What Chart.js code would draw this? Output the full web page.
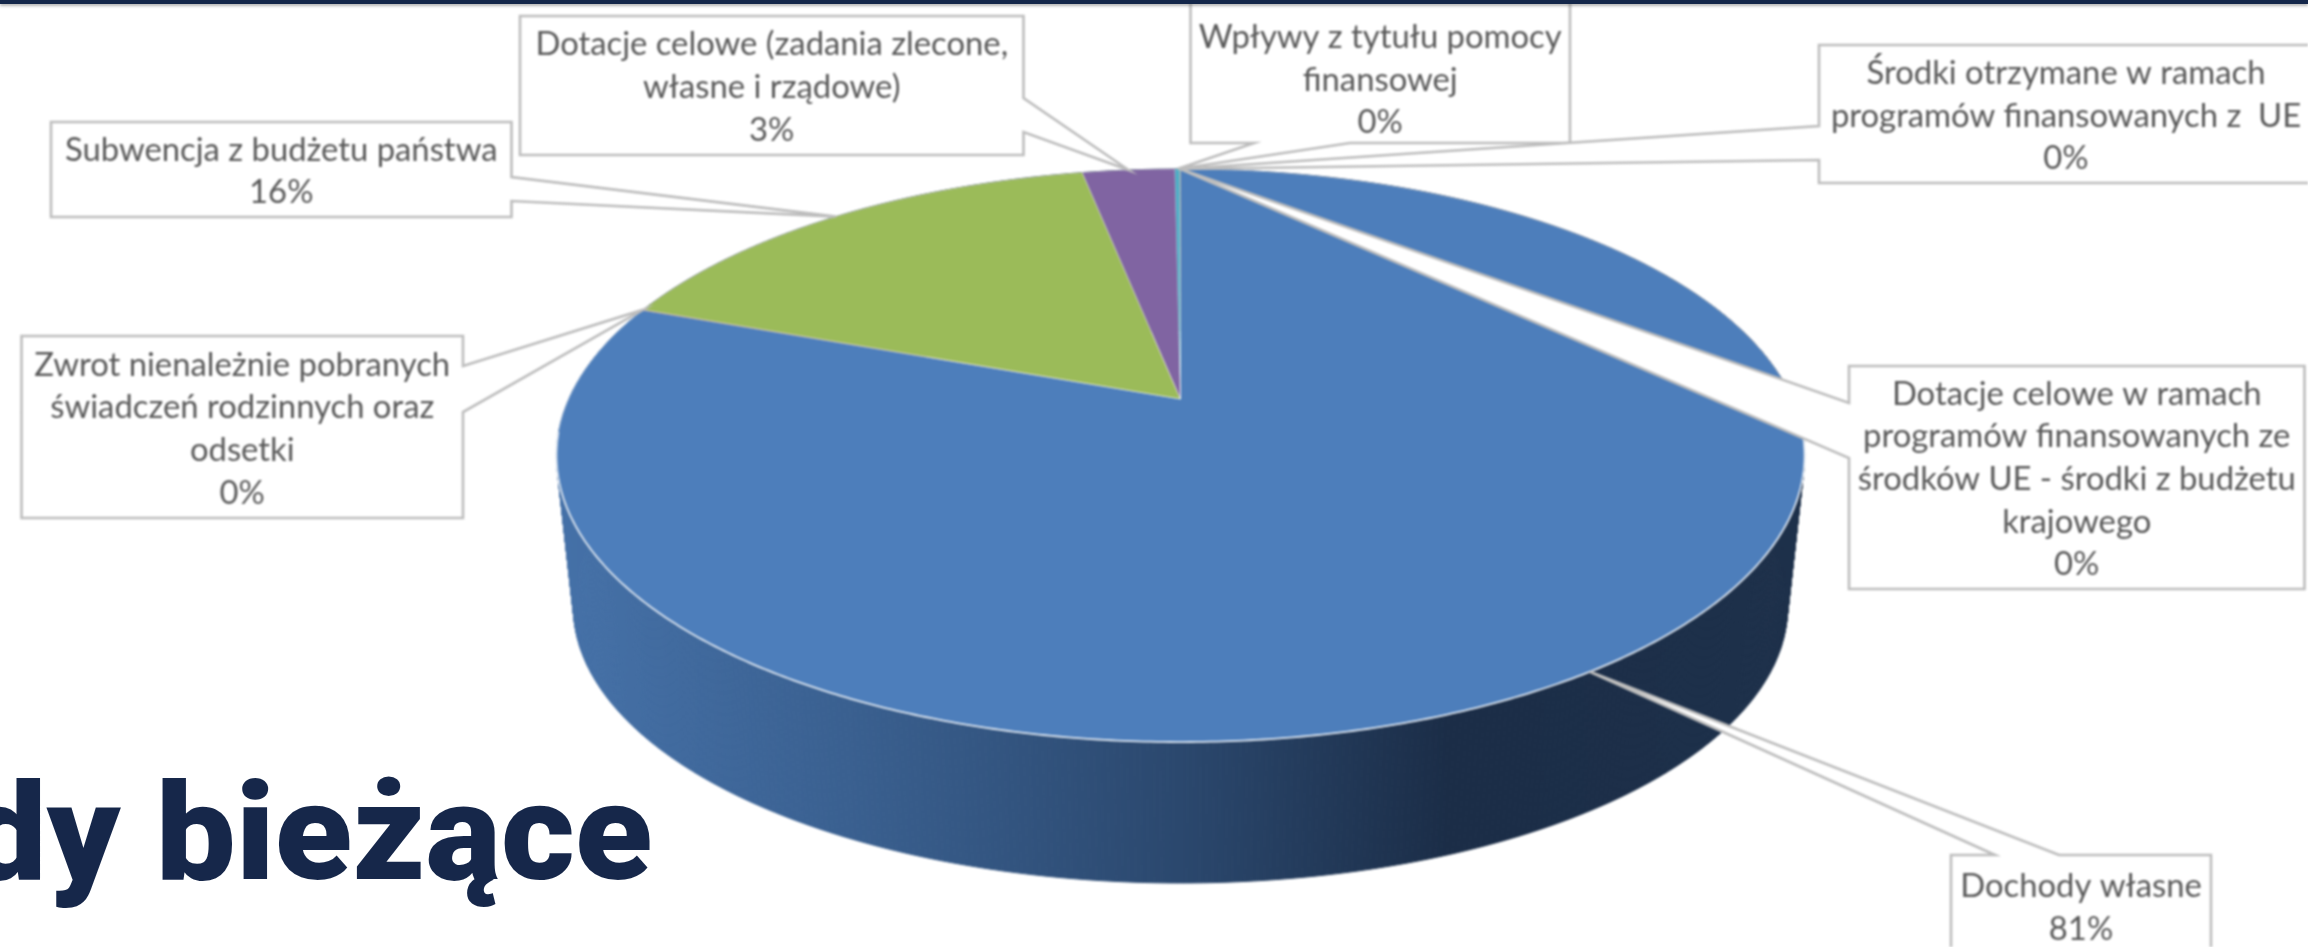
<!DOCTYPE html>
<html lang="pl">
<head>
<meta charset="utf-8">
<title>Dochody bieżące</title>
<script src="https://cdn.jsdelivr.net/npm/chart.js@4"></script>
<style>
html,body{margin:0;padding:0;background:#fff;width:2308px;height:947px;overflow:hidden}
#wrap{position:relative;width:2308px;height:947px;overflow:hidden}
#c{position:absolute;left:0;top:0;filter:blur(0.8px)}
#bar{position:absolute;left:0;top:0;width:100%;height:4px;background:#14274a;box-shadow:0 2px 3px rgba(90,90,90,.45)}
#title{position:absolute;right:1656px;top:748px;font:900 136px/170px Roboto,sans-serif;color:#16274a;white-space:nowrap;transform-origin:right center;transform:scaleX(1.045)}
</style>
</head>
<body>
<div id="wrap">
<canvas id="c" width="2308" height="947"></canvas>
<div id="bar"></div>
<div id="title">Dochody bieżące</div>
</div>
<script>
// ---- data ----
const categories = [
  "Dochody własne",
  "Zwrot nienależnie pobranych świadczeń rodzinnych oraz odsetki",
  "Subwencja z budżetu państwa",
  "Dotacje celowe (zadania zlecone, własne i rządowe)",
  "Wpływy z tytułu pomocy finansowej",
  "Środki otrzymane w ramach programów finansowanych z  UE",
  "Dotacje celowe w ramach programów finansowanych ze środków UE - środki z budżetu krajowego"
];
const values = [80.6, 0.03, 16.3, 2.9, 0.15, 0.01, 0.01];
const sliceColors = ["#4d7ebb", "#c0504d", "#9bbb59", "#8064a2", "#4bacc6", "#f79646", "#2c4d75"];
const labelLines = [
  ["Dochody własne"],
  ["Zwrot nienależnie pobranych", "świadczeń rodzinnych oraz", "odsetki"],
  ["Subwencja z budżetu państwa"],
  ["Dotacje celowe (zadania zlecone,", "własne i rządowe)"],
  ["Wpływy z tytułu pomocy", "finansowej"],
  ["Środki otrzymane w ramach", "programów finansowanych z  UE"],
  ["Dotacje celowe w ramach", "programów finansowanych ze", "środków UE - środki z budżetu", "krajowego"]
];

// ---- styling / layout (3-D projection of the circle, callout boxes) ----
const topFace = {a: 611.8, b: 275.4, k: -0.1972, dy: 0};
const botFace = {a: 595.5, b: 265.6, k: -0.1944, dy: 154.3};
const wallStops = [[556,"#4571a8"],[850,"#3a6090"],[1180,"#2b486e"],[1450,"#1b2d47"],[1800,"#1d304a"]];
const calloutBoxes = [
  {l:1951,t:855,r:2211,b:958,side:"top",w1:1995,w2:2059,tipAt:0.503,textCy:906},
  {l:21.5,t:336,r:463,b:518,side:"right",w1:366,w2:412,tipAt:1},
  {l:51,t:122,r:511.5,b:217,side:"right",w1:177,w2:201},
  {l:520,t:16,r:1023.5,b:155,side:"right",w1:98,w2:132},
  {l:1190.5,t:-10,r:1570,b:143,side:"bottom",w1:1254,w2:1350,textCy:78},
  {l:1819,t:45,r:2320,b:183,side:"left",w1:126,w2:160,textCx:2066},
  {l:1849,t:366,r:2304.5,b:589,side:"left",w1:403,w2:458}
];
const LINE_H = 42.7;

function project(face, el, angle) {
  const th = angle + Math.PI / 2;
  const u = Math.sin(th), v = -Math.cos(th);
  const d = 1 + face.k * v;
  return {x: el.x + face.a * u / d, y: el.y + face.dy + face.b * v / d};
}

const pie3d = {
  id: "pie3d",
  beforeDatasetDraw(chart, args) {
    const ctx = chart.ctx, els = args.meta.data;
    const grad = ctx.createLinearGradient(556, 0, 1800, 0);
    wallStops.forEach(s => grad.addColorStop((s[0] - 556) / (1800 - 556), s[1]));
    const step = Math.PI / 360;
    // side wall of every slice; the back parts stay hidden under the top face
    els.forEach((el, i) => {
      ctx.fillStyle = ctx.strokeStyle = i === 0 ? grad : "#1d304a";
      ctx.lineWidth = 1;
      for (let t = el.startAngle; t < el.endAngle; t += step) {
        const t2 = Math.min(t + step, el.endAngle);
        const p = [project(topFace, el, t), project(topFace, el, t2),
                   project(botFace, el, t2), project(botFace, el, t)];
        ctx.beginPath();
        p.forEach((q, j) => j ? ctx.lineTo(q.x, q.y) : ctx.moveTo(q.x, q.y));
        ctx.closePath(); ctx.fill(); ctx.stroke();
      }
    });
    // top face
    els.forEach((el, i) => {
      ctx.beginPath();
      ctx.moveTo(el.x, el.y);
      for (let t = el.startAngle; t < el.endAngle; t += step) {
        const q = project(topFace, el, t); ctx.lineTo(q.x, q.y);
      }
      const e = project(topFace, el, el.endAngle); ctx.lineTo(e.x, e.y);
      ctx.closePath();
      ctx.fillStyle = sliceColors[i];
      ctx.fill();
      ctx.strokeStyle = "rgba(255,255,255,.55)";
      ctx.lineWidth = values[i] > 1 ? 0.8 : 0.3;
      ctx.stroke();
    });
    // light rim only where the top face meets the side wall
    const el0 = els[0];
    ctx.beginPath();
    for (let t = -Math.PI / 2 + 1.68; t < -Math.PI / 2 + 4.6; t += step) {
      const q = project(topFace, el0, t); ctx.lineTo(q.x, q.y);
    }
    ctx.strokeStyle = "#dbe4ef"; ctx.lineWidth = 1.8; ctx.stroke();
    return false;
  },
  afterDraw(chart) {
    const ctx = chart.ctx, els = chart.getDatasetMeta(0).data;
    const total = values.reduce((a, b) => a + b, 0);
    els.forEach((el, i) => {
      const bx = calloutBoxes[i];
      const at = bx.tipAt !== undefined ? bx.tipAt : 0.5;
      const tip = project(topFace, el, el.startAngle + (el.endAngle - el.startAngle) * at);
      ctx.beginPath();
      ctx.moveTo(bx.l, bx.t);
      if (bx.side === "top") { ctx.lineTo(bx.w1, bx.t); ctx.lineTo(tip.x, tip.y); ctx.lineTo(bx.w2, bx.t); }
      ctx.lineTo(bx.r, bx.t);
      if (bx.side === "right") { ctx.lineTo(bx.r, bx.w1); ctx.lineTo(tip.x, tip.y); ctx.lineTo(bx.r, bx.w2); }
      ctx.lineTo(bx.r, bx.b);
      if (bx.side === "bottom") { ctx.lineTo(bx.w2, bx.b); ctx.lineTo(tip.x, tip.y); ctx.lineTo(bx.w1, bx.b); }
      ctx.lineTo(bx.l, bx.b);
      if (bx.side === "left") { ctx.lineTo(bx.l, bx.w2); ctx.lineTo(tip.x, tip.y); ctx.lineTo(bx.l, bx.w1); }
      ctx.closePath();
      ctx.fillStyle = "#fff"; ctx.fill();
      ctx.strokeStyle = "#bdbdbd"; ctx.lineWidth = 2.6; ctx.lineJoin = "miter"; ctx.stroke();

      const lines = labelLines[i].concat(Math.round(values[i] / total * 100) + "%");
      const cx = bx.textCx !== undefined ? bx.textCx : (bx.l + bx.r) / 2;
      const cy = bx.textCy !== undefined ? bx.textCy : (bx.t + bx.b) / 2;
      ctx.fillStyle = "#595959";
      ctx.font = "32.8px Lato, sans-serif";
      ctx.textAlign = "center"; ctx.textBaseline = "middle";
      lines.forEach((s, n) => ctx.fillText(s, cx, cy + 2 + (n - (lines.length - 1) / 2) * LINE_H));
    });
  }
};

new Chart(document.getElementById("c"), {
  type: "pie",
  data: {labels: categories, datasets: [{data: values, backgroundColor: sliceColors, borderWidth: 0}]},
  options: {
    responsive: false, animation: false,
    layout: {padding: {left: 53, right: 0, top: 0, bottom: 149}},
    plugins: {legend: {display: false}, tooltip: {enabled: false}}
  },
  plugins: [pie3d]
});
</script>
</body>
</html>
